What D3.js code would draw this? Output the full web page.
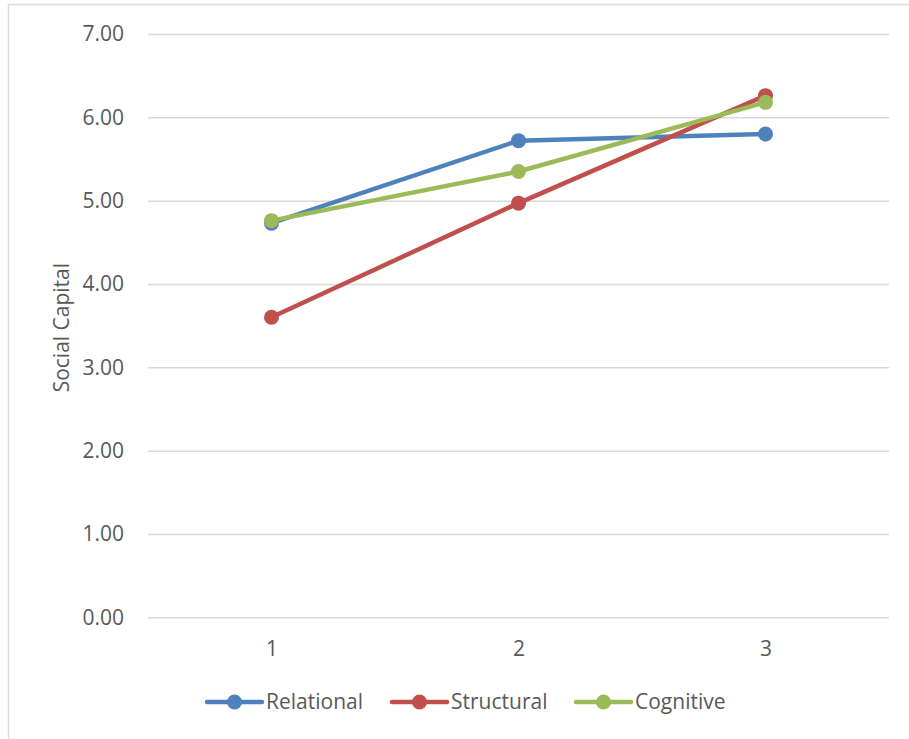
<!DOCTYPE html>
<html>
<head>
<meta charset="utf-8">
<script src="https://cdn.jsdelivr.net/npm/d3@7"></script>
<style>
  html, body { margin: 0; padding: 0; background: #fff; }
  svg { display: block; }
  svg text { font-family: "Open Sans", Lato, sans-serif; }
</style>
</head>
<body>
<svg id="chart" width="909" height="739"></svg>
<script>
// Social capital scores across three time points
const categories = ["1", "2", "3"];
const seriesNames = ["Relational", "Structural", "Cognitive"];
const relational = [4.73, 5.72, 5.80];
const structural = [3.60, 4.97, 6.26];
const cognitive = [4.76, 5.35, 6.18];
const yTicks = [0, 1, 2, 3, 4, 5, 6, 7];
const colors = ["#4F81BD", "#C0504D", "#9BBB59"];

const series = [relational, structural, cognitive].map((values, i) => ({
  name: seriesNames[i], color: colors[i], values
}));

const svg = d3.select("#chart");
const plotLeft = 148, plotRight = 889, plotTop = 34, plotBottom = 617.3;
const fontSize = "21px";
const fontFamily = "'Open Sans', Lato, sans-serif";

// chart border
svg.append("rect")
  .attr("x", 8.5).attr("y", 4.5)
  .attr("width", 910).attr("height", 750)
  .attr("fill", "none").attr("stroke", "#d9d9d9").attr("stroke-width", 1.5);

const x = d3.scalePoint().domain(categories).range([plotLeft, plotRight]).padding(0.5);
const y = d3.scaleLinear().domain([0, 7]).range([plotBottom, plotTop]);

// gridlines + y labels
const yAxis = d3.axisLeft(y).tickValues(yTicks).tickFormat(d3.format(".2f"))
  .tickSize(-(plotRight - plotLeft)).tickPadding(24);
const gy = svg.append("g").attr("transform", `translate(${plotLeft},0)`).call(yAxis)
  .attr("font-family", fontFamily).attr("font-size", fontSize);
gy.select(".domain").remove();
gy.selectAll("line").attr("stroke", "#d9d9d9").attr("stroke-width", 1.5);
gy.selectAll("text").attr("fill", "#595959");

// x labels
const xAxis = d3.axisBottom(x).tickSize(0).tickPadding(24);
const gx = svg.append("g").attr("transform", `translate(0,${plotBottom})`).call(xAxis)
  .attr("font-family", fontFamily).attr("font-size", fontSize);
gx.select(".domain").remove();
gx.selectAll("text").attr("fill", "#595959");

// y axis title
svg.append("text")
  .attr("transform", `translate(69,${(plotTop + plotBottom) / 2 + 2}) rotate(-90)`)
  .attr("text-anchor", "middle")
  .attr("fill", "#595959").style("font-size", fontSize)
  .text("Social Capital");

// lines and markers
const line = d3.line().x((d, i) => x(categories[i])).y(d => y(d));
series.forEach(s => {
  const g = svg.append("g");
  g.append("path").attr("d", line(s.values))
    .attr("fill", "none").attr("stroke", s.color)
    .attr("stroke-width", 4.5).attr("stroke-linejoin", "round").attr("stroke-linecap", "round");
  g.selectAll("circle").data(s.values).join("circle")
    .attr("cx", (d, i) => x(categories[i])).attr("cy", d => y(d))
    .attr("r", 7.5).attr("fill", s.color);
});

// legend
const legendX = [207, 392, 576];
const ly = 702;
series.forEach((s, i) => {
  const g = svg.append("g").attr("transform", `translate(${legendX[i]},${ly})`);
  g.append("line").attr("x1", 0).attr("x2", 55).attr("y1", 0).attr("y2", 0)
    .attr("stroke", s.color).attr("stroke-width", 4.5).attr("stroke-linecap", "round");
  g.append("circle").attr("cx", 27.5).attr("cy", 0).attr("r", 7.5).attr("fill", s.color);
  g.append("text").attr("x", 59).attr("y", 0).attr("dy", "0.35em")
    .attr("fill", "#595959").style("font-size", fontSize).text(s.name);
});
</script>
</body>
</html>
